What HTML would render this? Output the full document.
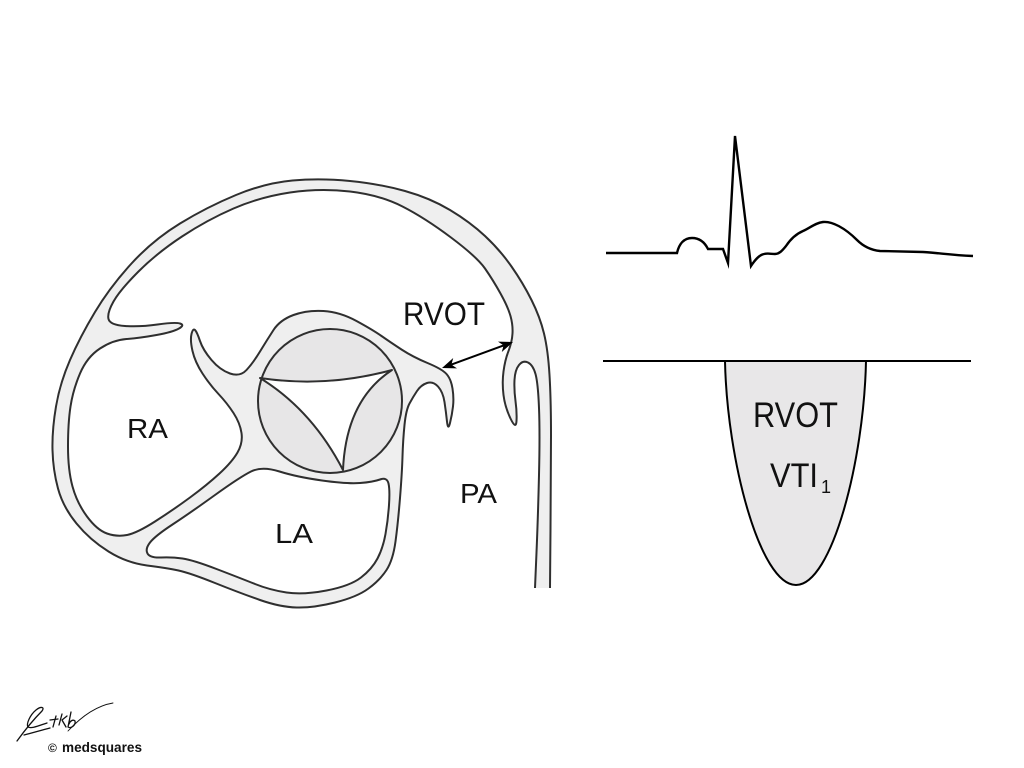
<!DOCTYPE html>
<html>
<head>
<meta charset="utf-8">
<style>
  html, body { margin: 0; padding: 0; background: #ffffff; }
  body { width: 1024px; height: 768px; overflow: hidden; }
  svg { display: block; }
  text { font-family: "Liberation Sans", "DejaVu Sans", sans-serif; }
</style>
</head>
<body>
<svg width="1024" height="768" viewBox="0 0 1024 768" xmlns="http://www.w3.org/2000/svg">
  <rect x="0" y="0" width="1024" height="768" fill="#ffffff"/>

  <!-- Heart wall band -->
  <path fill="#efefef" stroke="#2f2f2f" stroke-width="2" stroke-linejoin="round"
    d="M550 588 L550.5 529 Q551 470 551 435 Q551 400 549.5 375 Q548 350 544 333.5 Q540 317 531.5 300 Q523 283 511.5 266.5 Q500 250 485 236 Q470 222 450 210 Q430 198 405 191 Q380 184 350 181 Q320 178 292.5 180.5 Q265 183 236 195 Q207 207 180 223.5 Q153 240 131.5 263.5 Q110 287 95 312 Q80 337 70 360 Q60 383 56 406.5 Q52 430 52.5 450 Q53 470 58 488.5 Q63 507 76.5 523.5 Q90 540 108.5 551.5 Q127 563 147 565.5 Q167 568 178.5 570.5 Q190 573 215 583 Q240 593 260 600 Q280 607 296.5 607.5 Q313 608 335 602.5 Q357 597 368.5 588.5 Q380 580 386.5 570 Q393 560 395.5 541.5 Q398 523 400 498 Q402 473 402.5 456.5 Q403 440 404.5 425 Q406 410 409.5 403.5 Q413 397 417 391 Q421 385 427 383 Q433 381 438 386.5 Q443 392 444.5 402 Q446 412 447 421.5 Q448 431 450 423 Q452 415 453 406.5 Q454 398 452.5 388.5 Q451 379 446.5 374 Q442 369 427.5 363 Q413 357 401.5 349.5 Q390 342 381.5 336 Q373 330 356.5 321 Q340 312 323.5 311 Q307 310 293.5 315 Q280 320 273.5 330 Q267 340 260 351.5 Q253 363 246.5 370 Q240 377 230 373.5 Q220 370 211.5 360 Q203 350 200 341 Q197 332 195 330 Q193 328 191.5 334 Q190 340 192.5 351 Q195 362 202.5 373.5 Q210 385 218.5 394 Q227 403 233.5 413 Q240 423 241.5 433 Q243 443 237.5 452.5 Q232 462 219.5 473.5 Q207 485 190 497.5 Q173 510 155 521.5 Q137 533 127 535 Q117 537 107 533.5 Q97 530 87 516.5 Q77 503 72.5 486.5 Q68 470 68 446.5 Q68 423 70.5 406.5 Q73 390 80 373.5 Q87 357 100 348.5 Q113 340 126.5 339 Q140 338 156.5 335 Q173 332 179 328.5 Q185 325 180 323.5 Q175 322 157.5 324.5 Q140 327 125 326 Q110 325 108.5 319 Q107 313 113.5 301.5 Q120 290 138.5 271.5 Q157 253 182 236.5 Q207 220 233.5 208.5 Q260 197 290 192.5 Q320 188 350 191.5 Q380 195 402.5 206.5 Q425 218 451 237.5 Q477 257 485 268.5 Q493 280 500.5 293.5 Q508 307 510.5 316 Q513 325 512.5 333.5 Q512 342 508.5 351 Q505 360 503.5 371.5 Q502 383 503.5 395 Q505 407 510.5 418.5 Q516 430 516.5 421 Q517 412 515.5 401 Q514 390 514.5 380 Q515 370 519 365 Q523 360 528 362.5 Q533 365 535.5 374 Q538 383 539 408 Q540 433 539 475 Q538 517 536.5 552.5 L535 588"/>

  <!-- LA cavity -->
  <path fill="#ffffff" stroke="#2f2f2f" stroke-width="2" stroke-linejoin="round"
    d="M147.5 553.5 Q145 549 150 542.5 Q155 536 172.5 524.5 Q190 513 215 495 Q240 477 251 471.5 Q262 466 279.5 471.5 Q297 477 322 480.5 Q347 484 360 483 Q373 482 380 479.5 Q387 477 388.5 483.5 Q390 490 389 505 Q388 520 385.5 534 Q383 548 377.5 558.5 Q372 569 361 577.5 Q350 586 326.5 590.5 Q303 595 286.5 592.5 Q270 590 255 584 Q240 578 216.5 569 Q193 560 182.5 558.5 Q172 557 161 557.5 Q150 558 147.5 553.5 Z"/>

  <!-- Aortic valve -->
  <circle cx="330" cy="401" r="72" fill="#e7e6e7" stroke="#2f2f2f" stroke-width="2"/>
  <path fill="#ffffff" stroke="#2f2f2f" stroke-width="2" stroke-linejoin="round"
    d="M260 378 Q326 388 392 370 Q346 400 343 470 Q312 410 260 378 Z"/>

  <!-- Double arrow -->
  <line x1="451.4" y1="364.6" x2="503.6" y2="345.4" stroke="#000" stroke-width="2"/>
  <polygon points="513,342 501.8,352.0 503.6,345.4 498.0,341.6" fill="#000"/>
  <polygon points="442,368 453.2,358.0 451.4,364.6 457.0,368.4" fill="#000"/>

  <!-- Heart labels -->
  <text x="403" y="325" font-size="32" fill="#111" textLength="82" lengthAdjust="spacingAndGlyphs">RVOT</text>
  <text x="127" y="438" font-size="28" fill="#111" textLength="41" lengthAdjust="spacingAndGlyphs">RA</text>
  <text x="275" y="543" font-size="28" fill="#111" textLength="38" lengthAdjust="spacingAndGlyphs">LA</text>
  <text x="460" y="503" font-size="28" fill="#111" textLength="37" lengthAdjust="spacingAndGlyphs">PA</text>

  <!-- ECG -->
  <path fill="none" stroke="#000" stroke-width="2.4" stroke-linejoin="miter" stroke-miterlimit="10"
    d="M606 253 L677 253 C679 244 684 238 692 238 C700 238 705 243 708 249 L723 249 L728 263 L735 136 L751 266 C755 260 759 255 764 254 C768 253 771 254 775 254 C779 254 782 251 786 246 C790 240 796 234 803 231 C810 228 815 223 823 222 C832 221 845 228 857 240 C863 246 870 250 880 251 L923 252 C940 253 950 255 973 256"/>

  <!-- Doppler -->
  <path fill="#e8e7e8" stroke="#000" stroke-width="2"
    d="M725 361 C727 460 760 585 796 585 C832 585 864 460 866 361 Z"/>
  <line x1="603" y1="361" x2="971" y2="361" stroke="#000" stroke-width="2"/>
  <text x="753" y="427" font-size="35" fill="#111" textLength="85" lengthAdjust="spacingAndGlyphs">RVOT</text>
  <text x="770" y="487" font-size="34" fill="#111" textLength="48" lengthAdjust="spacingAndGlyphs">VTI</text>
  <text x="821" y="493" font-size="18" fill="#111">1</text>

  <!-- Logo / signature -->
  <g fill="none" stroke="#111" stroke-width="1.3" stroke-linecap="round" stroke-linejoin="round">
    <path d="M17 741 C25 730 35 718 42 711 C45 707 41 706 36 710 C30 715 26 724 28 727 C31 729 38 726 47 723"/>
    <path d="M24 735 C32 733 42 730 50 728"/>
    <path d="M53 727 L56 716"/>
    <path d="M50 720 L58 719"/>
    <path d="M59 725 L62 714 M62 720 L67 716 M62 720 L66 727"/>
    <path d="M71 712 L68 727 C71 729 76 725 75 721 C73 719 70 721 69 724"/>
    <path d="M68 731 C80 718 95 706 113 703" stroke-width="0.9"/>
  </g>
  <text x="48" y="752" font-size="12" font-weight="bold" fill="#111">©</text>
  <text x="62" y="752" font-size="13.5" font-weight="bold" fill="#111" textLength="80" lengthAdjust="spacingAndGlyphs">medsquares</text>
</svg>
</body>
</html>
